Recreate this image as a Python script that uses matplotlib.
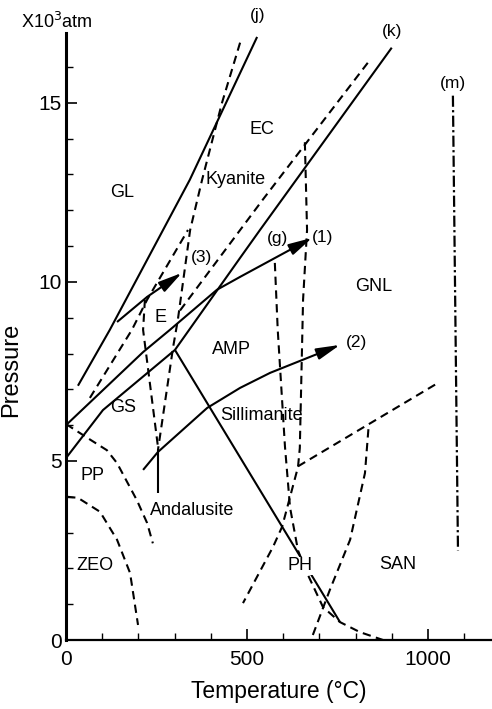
import matplotlib
matplotlib.use('Agg')
import matplotlib.pyplot as plt
from matplotlib.ticker import MultipleLocator

plt.rcParams['font.family'] = ['Liberation Sans', 'DejaVu Sans']

# ---- data: temperature (°C) and pressure (x10^3 atm) ----
j_T = [33, 121, 342, 528]
j_P = [7.1, 8.66, 12.85, 16.84]
k_T = [0, 102, 301, 481, 536, 900]
k_P = [5.08, 6.42, 8.1, 10.67, 11.45, 16.54]
ph_T = [301, 757]
ph_P = [8.1, 0.5]
arrow1_T = [0, 213, 287, 417, 481, 680]
arrow1_P = [6.0, 8.04, 8.66, 9.78, 10.14, 11.23]
arrow2_T = [213, 254, 390, 481, 564, 757]
arrow2_P = [4.75, 5.25, 6.48, 7.04, 7.46, 8.24]
arrow3_T = [141, 224, 320]
arrow3_P = [8.88, 9.58, 10.25]
d1_T = [481, 431, 376, 343, 309, 296, 254]
d1_P = [16.68, 15.0, 12.85, 11.45, 8.94, 8.18, 5.3]
d2_T = [218, 213, 254]
d2_P = [9.5, 8.66, 5.4]
d3_T = [66, 182, 224, 337]
d3_P = [6.76, 8.66, 9.5, 11.45]
d4_T = [315, 544, 840]
d4_P = [9.2, 12.3, 16.2]
g_T = [577, 585, 605, 619, 641, 666, 710, 757, 812, 876]
g_P = [10.53, 8.66, 5.4, 3.7, 2.5, 1.87, 0.92, 0.5, 0.22, 0.0]
l_T = [660, 666, 655, 646, 641, 597, 572, 489]
l_P = [13.9, 11.45, 9.5, 5.36, 4.83, 3.16, 2.6, 1.03]
n_T = [641, 1028]
n_P = [4.85, 7.18]
san_T = [682, 729, 785, 826, 836]
san_P = [0.14, 1.4, 2.8, 4.66, 5.95]
m_T = [1069, 1083]
m_P = [15.2, 2.5]
pp_T = [0, 66, 113, 141, 196, 224, 240]
pp_P = [6.03, 5.6, 5.3, 4.94, 3.9, 3.27, 2.7]
zeo_T = [3, 33, 94, 141, 177, 199]
zeo_P = [4.0, 3.97, 3.58, 2.8, 1.87, 0.42]
and_T = [254, 254]
and_P = [5.3, 4.1]

facies_labels = ['GL', 'EC', 'Kyanite', 'E', 'AMP', 'GS', 'PP', 'Andalusite',
                 'ZEO', 'PH', 'SAN', 'GNL', 'Sillimanite']
facies_T = [155, 541, 469, 262, 456, 158, 72, 348, 80, 646, 917, 851, 541]
facies_P = [12.5, 14.25, 12.85, 9.0, 8.1, 6.5, 4.6, 3.63, 2.07, 2.07, 2.1, 9.86, 6.26]

curve_labels = ['(j)', '(k)', '(m)', '(g)', '(1)', '(2)', '(3)']
curve_T = [530, 900, 1069, 583, 710, 804, 373]
curve_P = [17.45, 17.0, 15.55, 11.2, 11.25, 8.3, 10.67]

x_ticks = [0, 500, 1000]
y_ticks = [0, 5, 10, 15]

# ---- figure ----
fig = plt.figure(figsize=(4.92, 7.09), dpi=100)
ax = fig.add_axes([66 / 492, 69 / 709, 426 / 492, 607 / 709])
ax.set_xlim(0, 1177)
ax.set_ylim(0, 16.95)

solid = dict(color='black', lw=1.5, solid_capstyle='butt')
dashed = dict(color='black', lw=1.5, linestyle=(0, (4, 2.6)))

for T, P in [(j_T, j_P), (k_T, k_P), (ph_T, ph_P), (and_T, and_P)]:
    ax.plot(T, P, **solid)

for T, P in [(arrow1_T, arrow1_P), (arrow2_T, arrow2_P), (arrow3_T, arrow3_P)]:
    ax.plot(T[:-1], P[:-1], **solid)
    ax.annotate('', xy=(T[-1], P[-1]), xytext=(T[-2], P[-2]),
                arrowprops=dict(arrowstyle='-|>,head_length=0.9,head_width=0.22',
                                color='black', lw=1.5, mutation_scale=16,
                                shrinkA=0, shrinkB=0))

for T, P in [(d1_T, d1_P), (d2_T, d2_P), (d3_T, d3_P), (d4_T, d4_P),
             (g_T, g_P), (l_T, l_P), (n_T, n_P), (san_T, san_P),
             (pp_T, pp_P), (zeo_T, zeo_P)]:
    ax.plot(T, P, **dashed)

ax.plot(m_T, m_P, color='black', lw=1.6, linestyle=(0, (5, 1.5, 1, 1.5)))

for s, T, P in zip(facies_labels, facies_T, facies_P):
    bb = dict(facecolor='white', edgecolor='none', pad=0.5) if s == 'PH' else None
    ax.text(T, P, s, ha='center', va='center', fontsize=13, bbox=bb)

for s, T, P in zip(curve_labels, curve_T, curve_P):
    ax.text(T, P, s, ha='center', va='center', fontsize=12.5, clip_on=False)

# axes styling
for side in ['top', 'right']:
    ax.spines[side].set_visible(False)
ax.spines['left'].set_linewidth(2.2)
ax.spines['bottom'].set_linewidth(1.6)
ax.set_xticks(x_ticks)
ax.set_yticks(y_ticks)
ax.xaxis.set_minor_locator(MultipleLocator(100))
ax.yaxis.set_minor_locator(MultipleLocator(1))
ax.tick_params(which='major', direction='in', length=8, width=1.2, labelsize=15)
ax.tick_params(which='minor', direction='in', length=5, width=1.0)
ax.tick_params(axis='x', pad=7)
ax.tick_params(axis='y', pad=3)

ax.set_xlabel('Temperature (°C)', fontsize=16.5, labelpad=8)
ax.set_ylabel('Pressure', fontsize=17)
ax.yaxis.set_label_coords(-0.103, 0.445)
fig.text(57 / 492, 1 - 22 / 709, 'X10$^3$atm', ha='center', va='center', fontsize=13)

fig.savefig('out.png', dpi=100)
